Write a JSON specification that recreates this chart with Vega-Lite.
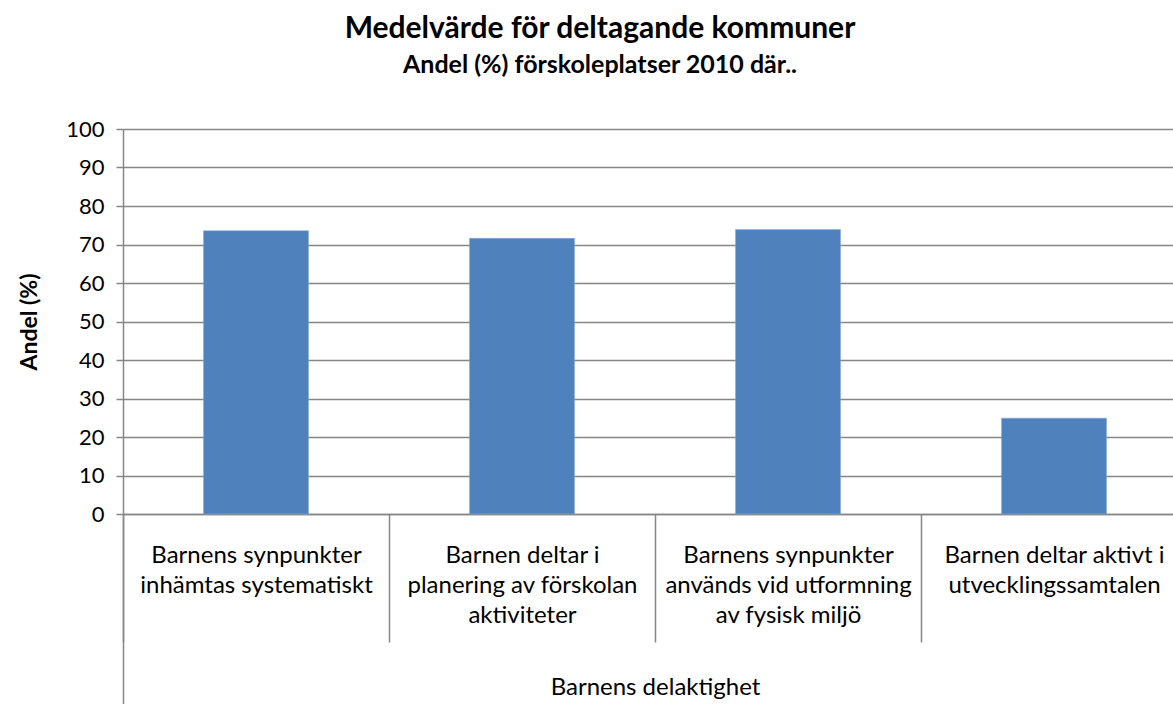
{
  "$schema": "https://vega.github.io/schema/vega-lite/v6.json",
  "autosize": "none",
  "width": 1064,
  "height": 385,
  "padding": {"left": 123, "top": 129, "right": 0, "bottom": 190},
  "background": "white",
  "title": {
    "text": "Medelvärde för deltagande kommuner",
    "subtitle": "Andel (%) förskoleplatser 2010 där..",
    "font": "Lato",
    "fontSize": 30,
    "fontWeight": "bold",
    "subtitleFont": "Lato",
    "subtitleFontSize": 25,
    "subtitleFontWeight": "bold",
    "subtitleColor": "black",
    "color": "black",
    "subtitlePadding": 9,
    "anchor": "middle",
    "dx": -55,
    "offset": 40
  },
  "data": {
    "values": [
      {"kategori": "Barnens synpunkter|inhämtas systematiskt", "andel": 73.6},
      {"kategori": "Barnen deltar i|planering av förskolan|aktiviteter", "andel": 71.6},
      {"kategori": "Barnens synpunkter|används vid utformning|av fysisk miljö", "andel": 73.9},
      {"kategori": "Barnen deltar aktivt i|utvecklingssamtalen", "andel": 24.9}
    ]
  },
  "config": {
    "view": {"stroke": null},
    "font": "Lato"
  },
  "resolve": {"axis": {"x": "independent"}},
  "layer": [
    {
      "mark": {"type": "bar", "opacity": 0, "width": {"band": 0.395}},
      "encoding": {
        "x": {
          "field": "kategori",
          "type": "nominal",
          "sort": null,
          "scale": {"paddingInner": 0, "paddingOuter": 0},
          "axis": {
            "title": null,
            "values": ["Barnens synpunkter|inhämtas systematiskt"],
            "labels": false,
            "domain": false,
            "tickOffset": -133,
            "tickSize": 190,
            "tickColor": "#868686",
            "tickWidth": 1.5,
            "grid": false,
            "orient": "bottom"
          }
        }
      }
    },
    {
      "mark": {"type": "bar", "color": "#4F81BD", "stroke": "#8EAADB", "strokeWidth": 0.5, "width": {"band": 0.395}},
      "encoding": {
        "x": {
          "field": "kategori",
          "type": "nominal",
          "sort": null,
          "axis": {
            "title": "Barnens delaktighet",
            "titleFont": "Lato",
            "titleFontSize": 24,
            "titleFontWeight": "normal",
            "titleColor": "black",
            "titlePadding": 33,
            "labelAngle": 0,
            "labelExpr": "split(datum.label, '|')",
            "labelFont": "Lato",
            "labelFontSize": 24,
            "labelColor": "black",
            "labelLineHeight": 30,
            "labelPadding": -99,
            "labelBaseline": "top",
            "labelLimit": 300,
            "tickBand": "extent",
            "tickSize": 128,
            "tickColor": "#868686",
            "tickWidth": 1.5,
            "domainColor": "#868686",
            "domainWidth": 1.5,
            "grid": false,
            "orient": "bottom"
          }
        },
        "y": {
          "field": "andel",
          "type": "quantitative",
          "scale": {"domain": [0, 100]},
          "axis": {
            "title": "Andel (%)",
            "titleFont": "Lato",
            "titleFontSize": 23,
            "titleFontWeight": "bold",
            "titleColor": "black",
            "titlePadding": 24,
            "values": [0, 10, 20, 30, 40, 50, 60, 70, 80, 90, 100],
            "labelFont": "Lato",
            "labelFontSize": 22,
            "labelColor": "black",
            "labelPadding": 12,
            "tickSize": 7,
            "tickColor": "#868686",
            "tickWidth": 1.5,
            "domainColor": "#868686",
            "domainWidth": 1.5,
            "grid": true,
            "gridColor": "#868686",
            "gridWidth": 1.5
          }
        }
      }
    }
  ]
}
